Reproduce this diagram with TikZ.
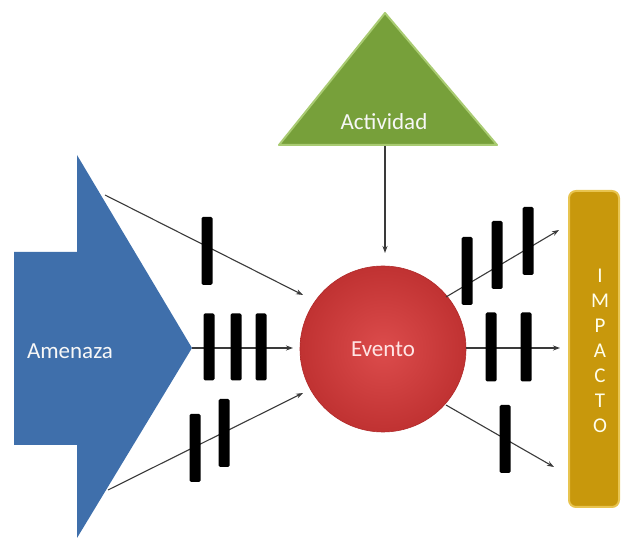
\documentclass[tikz,border=0pt]{standalone}
\usepackage{fontspec}
\setmainfont{Carlito}
\usetikzlibrary{arrows.meta}
\definecolor{amblue}{HTML}{3F6FAB}
\definecolor{actgreen}{HTML}{77A03A}
\definecolor{actedge}{HTML}{A9CB72}
\definecolor{evdark}{HTML}{C03232}
\definecolor{evlight}{HTML}{DC4C4C}
\definecolor{evedge}{HTML}{B02A2A}
\definecolor{impgold}{HTML}{C8980C}
\definecolor{impedge}{HTML}{E8C450}
\definecolor{linegray}{HTML}{3A3A3A}
\tikzset{
  conn/.style={draw=linegray, line width=1.1pt, -{Stealth[length=7pt,width=5pt]}},
  barrier/.style={fill=black, draw=none, rounded corners=1.5pt, minimum width=11pt, minimum height=68pt, inner sep=0pt},
  lbl/.style={text=white!94!gray, font=\fontsize{23}{26}\selectfont},
  implbl/.style={text=white!92!yellow, font=\fontsize{21}{22}\selectfont, align=center, inner sep=0pt}
}
\begin{document}
\begin{tikzpicture}[x=1pt,y=-1pt]
\useasboundingbox (0,0) rectangle (625,540);
% Amenaza big arrow
\fill[amblue] (14,252) -- (77,252) -- (77,155) -- (192,348) -- (77,538) -- (77,445) -- (14,445) -- cycle;
\node[lbl] (amen) at (70,351) {Amenaza};
% Actividad triangle
\draw[fill=actgreen, draw=actedge, line width=2pt, line join=round] (279,145) -- (385,13) -- (497,145) -- cycle;
\node[lbl] (act) at (384,122) {Actividad};
% Evento circle
\node[circle, minimum size=166pt, inner sep=0pt, draw=evedge, line width=0.6pt, inner color=evlight, outer color=evdark, lbl, text=white!90!red] (ev) at (383,349) {Evento};
% IMPACTO box
\node[draw=impedge, fill=impgold, line width=2pt, rounded corners=7pt, minimum width=50pt, minimum height=316pt, inner sep=0pt] (imp) at (594,349) {};
\node[implbl] (implbl) at (600,351) {I\\[3pt]M\\[3pt]P\\[3pt]A\\[3pt]C\\[3pt]T\\[3pt]O};
% coordinates
\coordinate (tA) at (105,195);
\coordinate (mA) at (192,348);
\coordinate (bA) at (108,490);
\coordinate (tE) at (303,295);
\coordinate (mE) at (293,348);
\coordinate (bE) at (303,393);
\coordinate (actB) at (385,146);
\coordinate (evT) at (385,253);
\coordinate (oT) at (559,230);
\coordinate (oM) at (560,348);
\coordinate (oB) at (554,467);
\coordinate (sT) at (446,297);
\coordinate (sM) at (466,348);
\coordinate (sB) at (446,405);
% connectors
\draw[conn] (actB) -- (evT);
\draw[conn] (tA) -- (tE);
\draw[conn] (mA) -- (mE);
\draw[conn] (bA) -- (bE);
\draw[conn] (sT) -- (oT);
\draw[conn] (sM) -- (oM);
\draw[conn] (sB) -- (oB);
% barriers
\node[barrier] (b1) at (207,251) {};
\node[barrier, minimum height=67pt] (b2) at (209,347) {};
\node[barrier, minimum height=67pt] (b3) at (236,347) {};
\node[barrier, minimum height=67pt] (b4) at (261,347) {};
\node[barrier] (b5) at (195,448) {};
\node[barrier] (b6) at (224,433) {};
\node[barrier] (b7) at (467,271) {};
\node[barrier] (b8) at (497,255) {};
\node[barrier] (b9) at (528,241) {};
\node[barrier, minimum height=69pt] (b10) at (491,347) {};
\node[barrier, minimum height=69pt] (b11) at (526,347) {};
\node[barrier] (b12) at (505,439) {};
\end{tikzpicture}
\end{document}
